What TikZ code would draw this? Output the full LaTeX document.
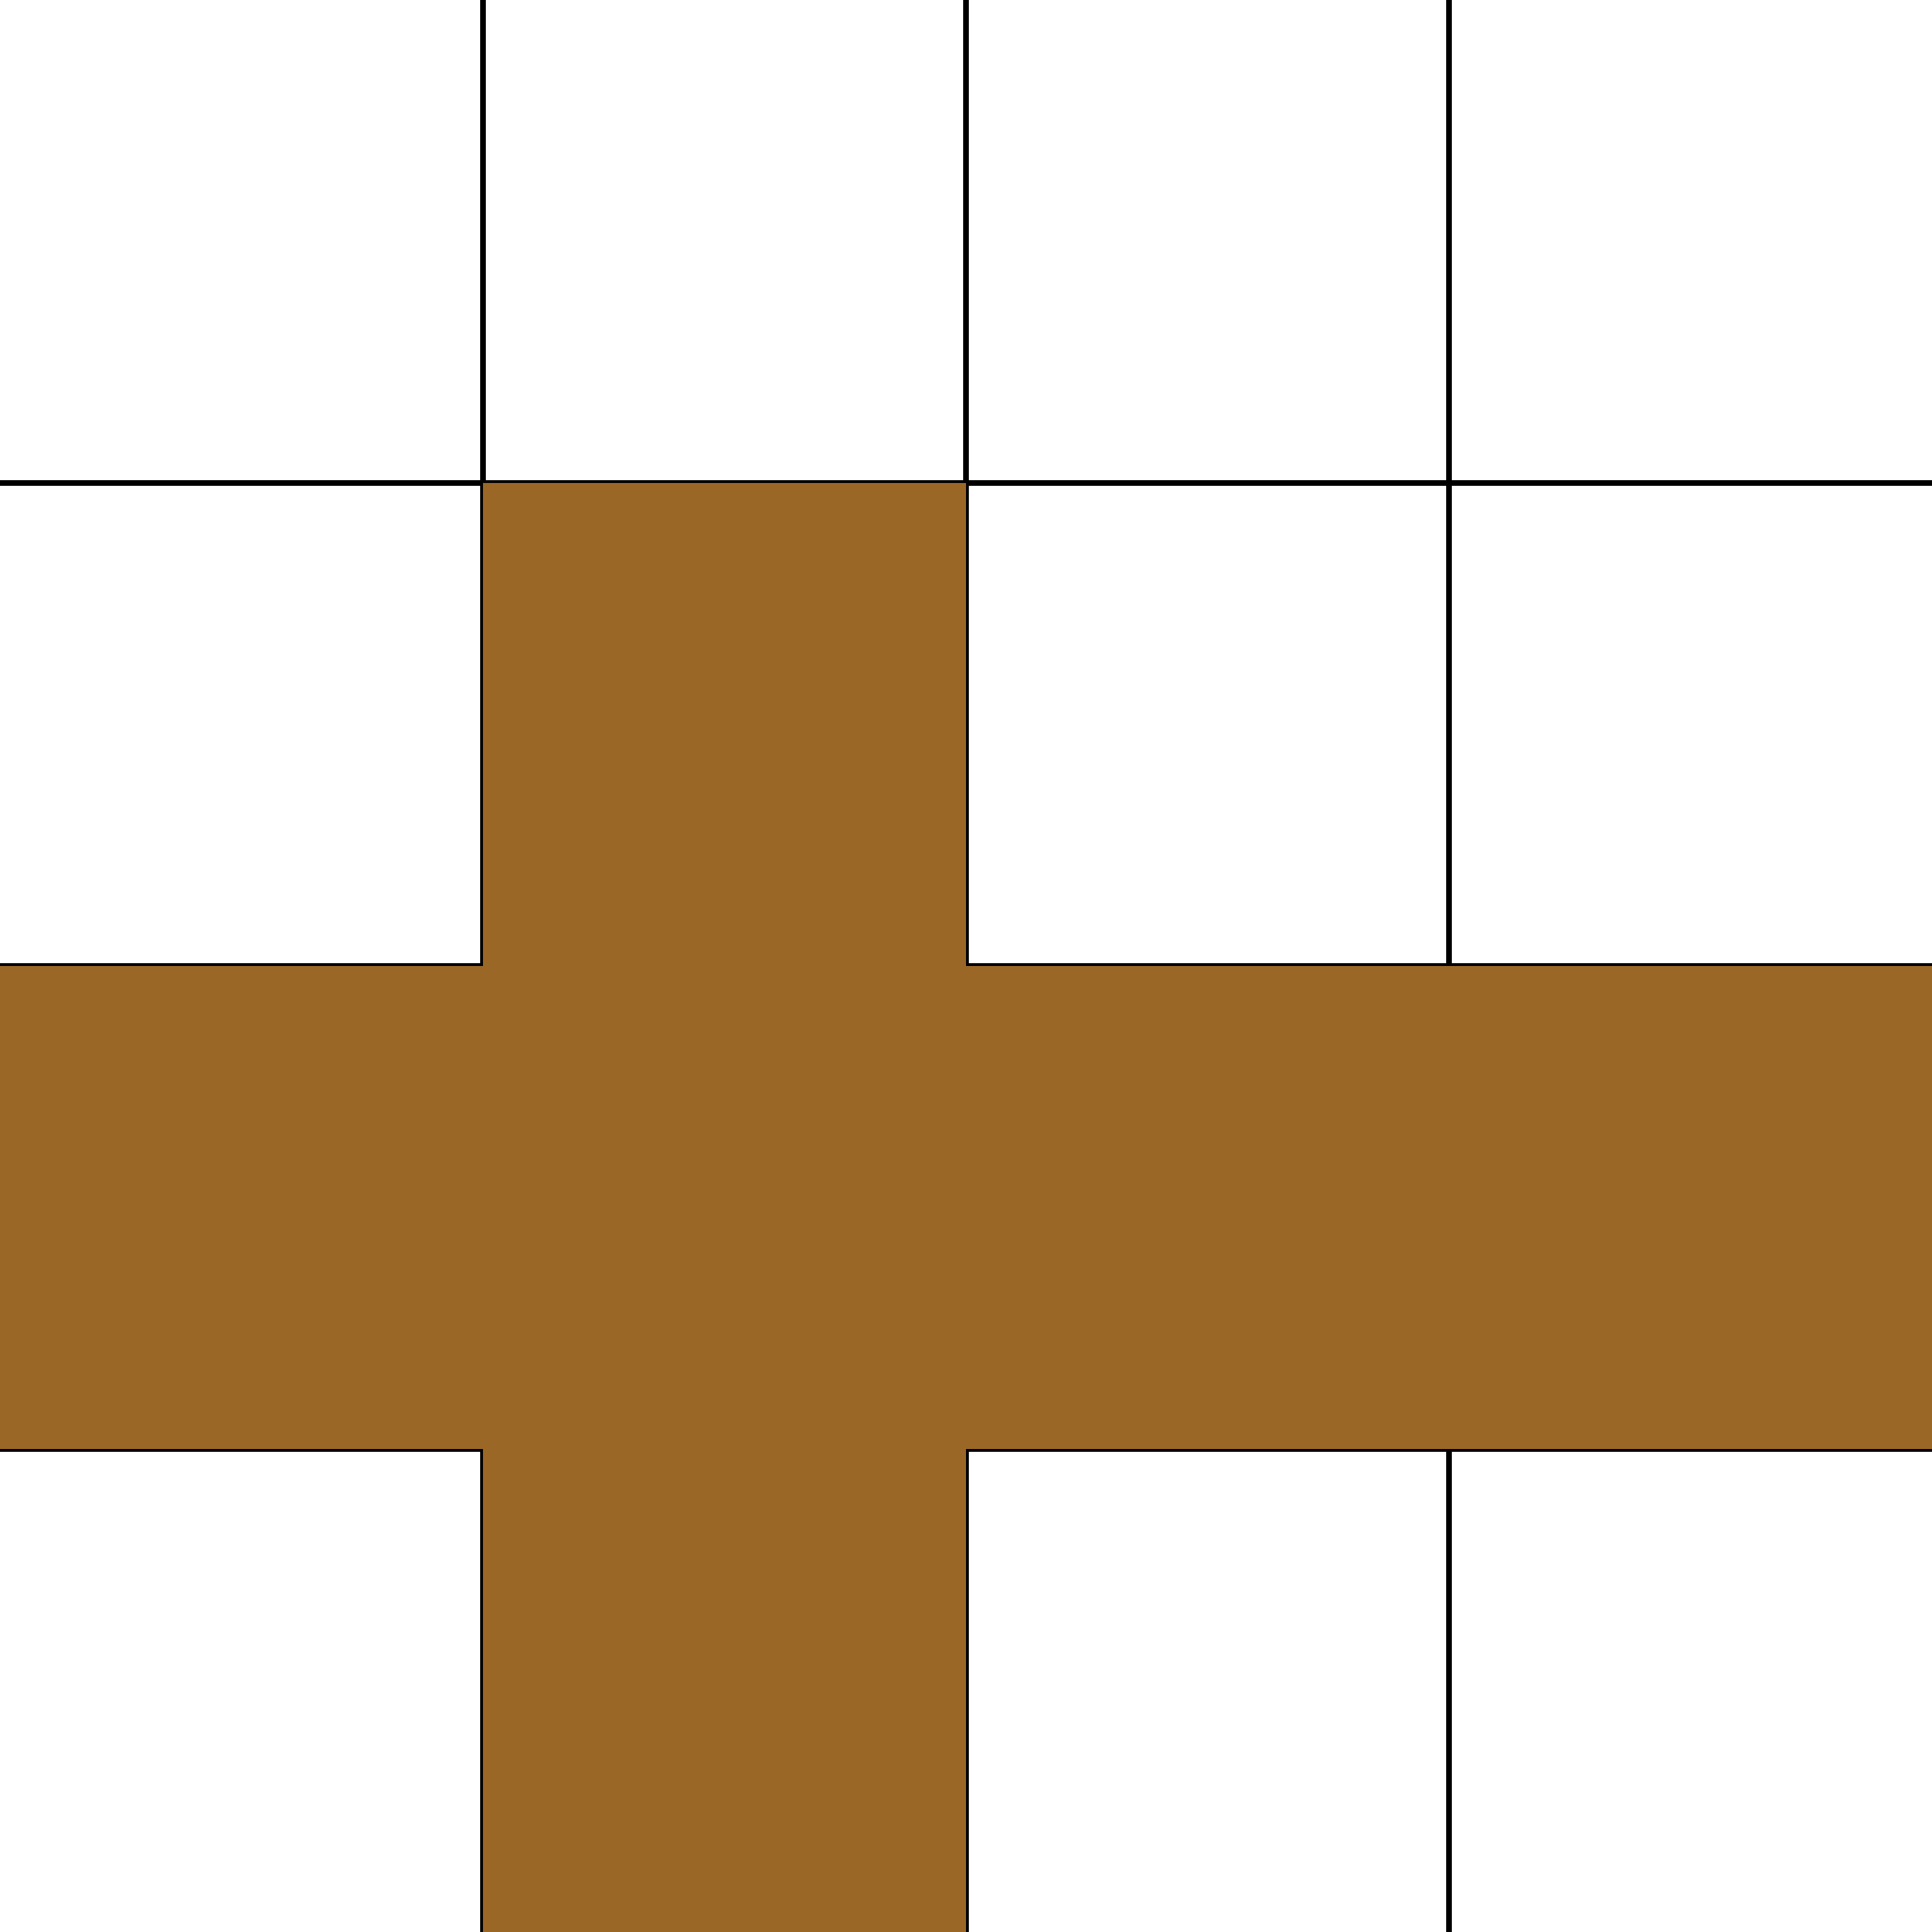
\documentclass[tikz,border=0pt]{standalone}
\usepackage{tikz}
\definecolor{netbrown}{HTML}{9A6727}

\begin{document}
\begin{tikzpicture}[
        gridline/.style={draw=black, line width=0.6pt},
        face/.style={fill=netbrown, draw=none, minimum size=2cm, inner sep=0pt, outer sep=0pt}
    ]

        \useasboundingbox[fill=white] (0,0) rectangle (8,8);

        % grid
        \draw[gridline] (2,0) -- (2,8);
        \draw[gridline] (4,0) -- (4,8);
        \draw[gridline] (6,0) -- (6,8);
        \draw[gridline] (0,2) -- (8,2);
        \draw[gridline] (0,4) -- (8,4);
        \draw[gridline] (0,6) -- (8,6);

        % faces of the net
        \node[face] (top) at (3,5) {};
        \node[face] (left) at (1,3) {};
        \node[face] (front) at (3,3) {};
        \node[face] (right) at (5,3) {};
        \node[face] (back) at (7,3) {};
        \node[face] (bottom) at (3,1) {};

    \end{tikzpicture}
\end{document}
